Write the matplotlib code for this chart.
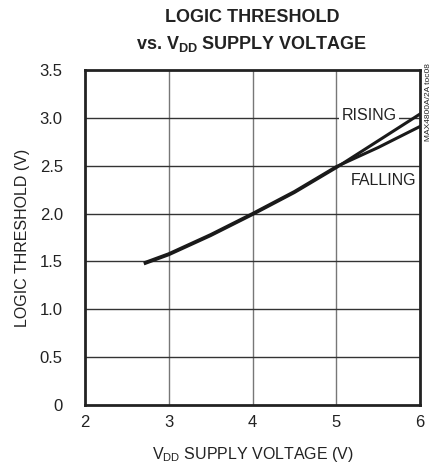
import matplotlib
matplotlib.use("Agg")
import matplotlib.pyplot as plt
from matplotlib import font_manager

names = {f.name for f in font_manager.fontManager.ttflist}
FONT = "Liberation Sans Narrow" if "Liberation Sans Narrow" in names else "Liberation Sans"
plt.rcParams['font.family'] = [FONT, 'DejaVu Sans']

vdd = [2.72, 3.0, 3.5, 4.0, 4.5, 5.0, 5.5, 6.0]
rising = [1.48, 1.57, 1.77, 1.99, 2.22, 2.48, 2.76, 3.04]
falling = [1.49, 1.58, 1.78, 2.00, 2.23, 2.49, 2.69, 2.91]
xticks = [2, 3, 4, 5, 6]
yticks = [0, 0.5, 1.0, 1.5, 2.0, 2.5, 3.0, 3.5]
ytick_labels = ["0", "0.5", "1.0", "1.5", "2.0", "2.5", "3.0", "3.5"]

fig = plt.figure(figsize=(4.34, 4.65), dpi=100)
W, H = 434, 465
ax = fig.add_axes([85 / W, 1 - 405 / H, (420 - 85) / W, (405 - 70) / H])
ax.set_xlim(2, 6)
ax.set_ylim(0, 3.5)
ax.set_xticks(xticks)
ax.set_yticks(yticks)
ax.set_yticklabels(ytick_labels)
ax.tick_params(length=0, labelsize=12, colors='#222222')
ax.tick_params(axis='y', pad=16)
ax.tick_params(axis='x', pad=7)
for s in ax.spines.values():
    s.set_linewidth(2.0)
    s.set_color('#222222')
for x in xticks[1:-1]:
    ax.axvline(x, color='#777777', lw=1.0, zorder=1)
for y in yticks[1:-1]:
    ax.axhline(y, color='#333333', lw=1.0, zorder=1)

ax.plot(vdd, rising, color='#1a1a1a', lw=2.2, zorder=3)
ax.plot(vdd, falling, color='#1a1a1a', lw=2.2, zorder=3)

ax.text(5.39, 3.02, "RISING", fontsize=11.5, ha='center', va='center', color='#222222',
        bbox=dict(facecolor='white', edgecolor='none', pad=1.5), zorder=2)
ax.text(5.56, 2.35, "FALLING", fontsize=11.5, ha='center', va='center', color='#222222', zorder=2)

fig.text(429 / W, 1 - 102 / H, "MAX4800A/2A toc08", rotation=90, fontsize=6,
         ha='center', va='center', color='#222222')

fig.text(252 / W, 1 - 17 / H, "LOGIC THRESHOLD", fontsize=13, fontweight='bold',
         ha='center', va='center', color='#222222')
fig.text(252 / W, 1 - 44 / H, r"vs. V$_{\mathregular{DD}}$ SUPPLY VOLTAGE", fontsize=13,
         fontweight='bold', ha='center', va='center', color='#222222')

ax.set_xlabel(r"V$_{\mathregular{DD}}$ SUPPLY VOLTAGE (V)", fontsize=11.5, color='#222222', labelpad=11)
ax.set_ylabel("LOGIC THRESHOLD (V)", fontsize=11.5, color='#222222', labelpad=7)

fig.savefig("out.png", dpi=100)
